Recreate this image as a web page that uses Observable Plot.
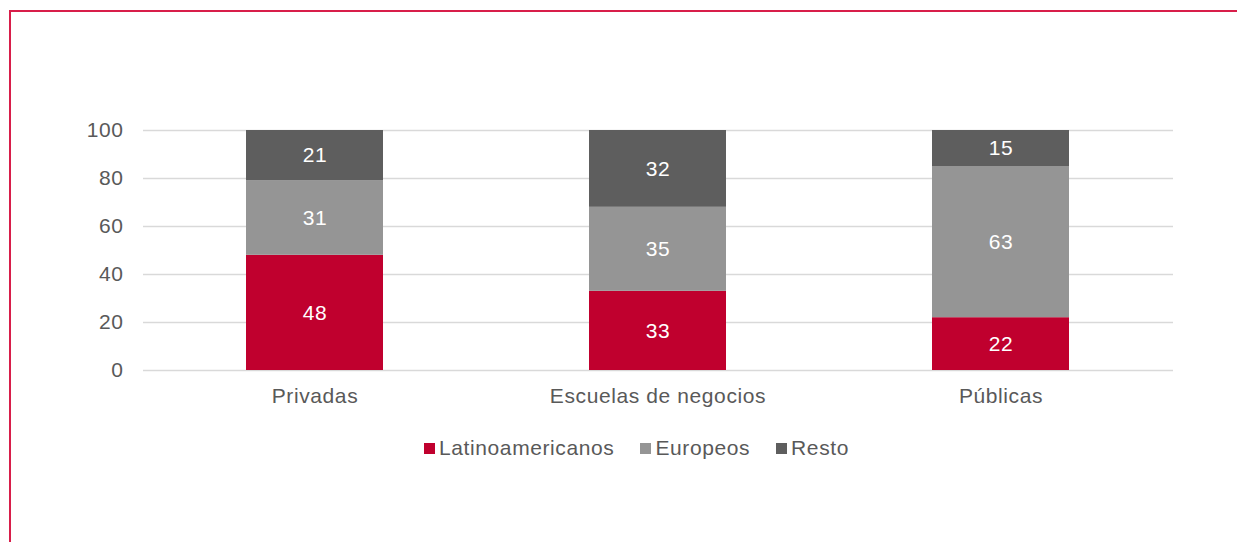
<!DOCTYPE html>
<html>
<head>
<meta charset="utf-8">
<script src="https://cdn.jsdelivr.net/npm/d3@7"></script>
<script src="https://cdn.jsdelivr.net/npm/@observablehq/plot@0.6"></script>
<style>
  html, body { margin: 0; padding: 0; background: #fff; width: 1237px; height: 542px; overflow: hidden; }
  #frame { position: absolute; left: 9px; top: 10px; width: 1300px; height: 600px;
           border-top: 2px solid #d81e4a; border-left: 2px solid #d81e4a; }
  #chart { position: absolute; left: 0; top: 0; }
  #legend { position: absolute; top: 436px; left: 0; width: 1237px; text-align: center; padding-left: 36px; box-sizing: border-box;
            font-family: "Liberation Sans", Arial, sans-serif; font-size: 21px; letter-spacing: 0.6px; color: #595959; white-space: nowrap; }
  #legend span.item { display: inline-block; margin: 0 13px; }
  #legend span.sw { display: inline-block; width: 11px; height: 11px; margin-right: 4px; vertical-align: 1px; }
  #chart text { letter-spacing: 0.6px; }
</style>
</head>
<body>
<div id="frame"></div>
<div id="chart"></div>
<div id="legend"></div>
<script>
const categories = ["Privadas", "Escuelas de negocios", "Públicas"];
const seriesNames = ["Latinoamericanos", "Europeos", "Resto"];
const latinoamericanos = [48, 33, 22];
const europeos = [31, 35, 63];
const resto = [21, 32, 15];
const yTicks = [0, 20, 40, 60, 80, 100];
const colors = ["#c0002e", "#959595", "#5e5e5e"];

const seriesValues = [latinoamericanos, europeos, resto];
const data = [];
seriesNames.forEach((s, si) => {
  categories.forEach((c, ci) => {
    data.push({category: c, series: s, value: seriesValues[si][ci]});
  });
});

const font = "'Liberation Sans', Arial, sans-serif";

const chart = Plot.plot({
  width: 1237,
  height: 420,
  marginLeft: 143,
  marginRight: 64,
  marginTop: 130,
  marginBottom: 50,
  style: {fontFamily: font, fontSize: "21px", color: "#595959", background: "transparent"},
  x: {domain: categories, paddingInner: 0.6, paddingOuter: 0.3, label: null},
  y: {domain: [0, 100], label: null},
  color: {domain: seriesNames, range: colors},
  marks: [
    Plot.ruleY(yTicks, {stroke: "#d9d9d9", strokeWidth: 1.5}),
    Plot.barY(data, Plot.stackY({x: "category", y: "value", fill: "series", order: seriesNames})),
    Plot.text(data, Plot.stackY({x: "category", y: "value", z: "series", order: seriesNames, text: "value", fill: "white", fontSize: 21})),
    Plot.axisY({ticks: yTicks, tickSize: 0, tickPadding: 20, label: null, fill: "#595959", fontSize: 21}),
    Plot.axisX({tickSize: 0, tickPadding: 18, label: null, fill: "#595959", fontSize: 21})
  ]
});
document.getElementById("chart").appendChild(chart);

const legend = document.getElementById("legend");
seriesNames.forEach((s, i) => {
  const item = document.createElement("span");
  item.className = "item";
  const sw = document.createElement("span");
  sw.className = "sw";
  sw.style.background = colors[i];
  item.appendChild(sw);
  item.appendChild(document.createTextNode(s));
  legend.appendChild(item);
});
</script>
</body>
</html>
